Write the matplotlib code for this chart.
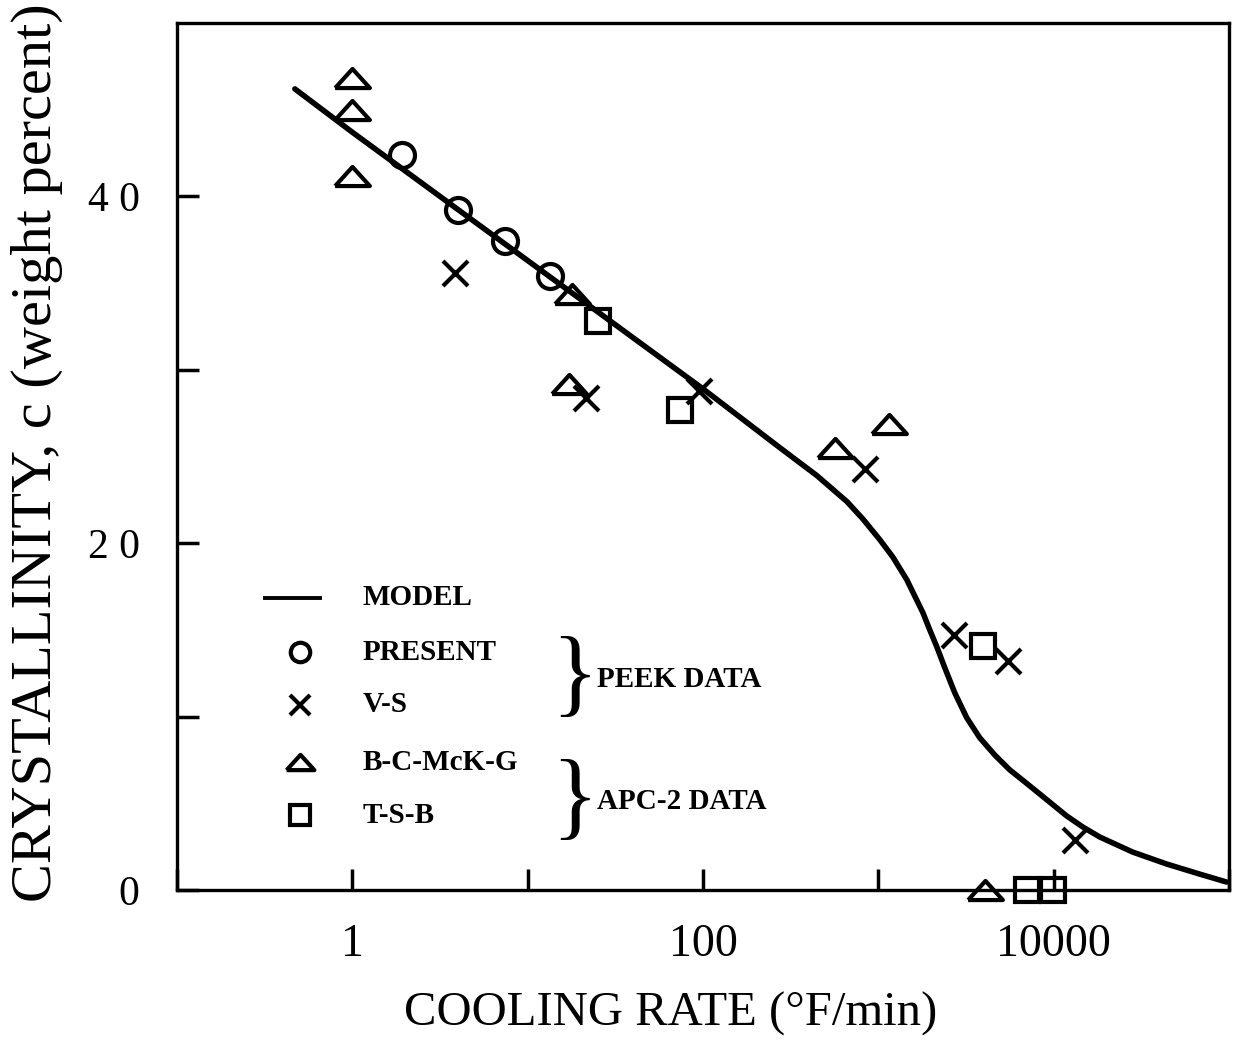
import matplotlib
matplotlib.use('Agg')
import matplotlib.pyplot as plt
from matplotlib.ticker import FixedLocator, FixedFormatter, NullLocator

plt.rcParams['font.family'] = ['Liberation Serif', 'DejaVu Serif']

# model curve
model_rate = [0.47, 1, 10, 100, 275, 446, 662, 816, 1020, 1210, 1452, 1794,
              1965, 2154, 2393, 2729, 3194, 3787, 4611, 5615, 6836, 8322,
              11864, 14630, 18290, 28190, 44050, 67900, 96800]
model_c = [46.2, 43.7, 36.3, 28.9, 25.5, 23.9, 22.4, 21.4, 20.2, 19.2, 17.9, 16.0,
           15.0, 14.03, 12.82, 11.37, 9.93, 8.78, 7.79, 6.93, 6.24, 5.54,
           4.27, 3.64, 3.06, 2.19, 1.50, 0.92, 0.46]

# PEEK data
present_rate = [1.93, 4.0, 7.4, 13.4]
present_c = [42.4, 39.2, 37.4, 35.4]
vs_rate = [3.86, 21.5, 95, 838, 2690, 5470, 13200]
vs_c = [35.6, 28.4, 28.8, 24.3, 14.7, 13.2, 2.9]

# APC-2 data
bcmg_rate = [1.0, 1.0, 1.0, 17.9, 17.2, 565, 1150, 4050]
bcmg_c = [46.8, 45.0, 41.2, 34.4, 29.2, 25.5, 26.9, 0.0]
tsb_rate = [25.2, 73.9, 3940, 7000, 9900]
tsb_c = [32.8, 27.7, 14.1, 0.0, 0.0]

x_ticks = [0.1, 1, 10, 100, 1000, 10000, 100000]
x_labels = ['', '1', '', '100', '', '10000', '']
y_ticks = [0, 10, 20, 30, 40]
y_labels = ['0', '', '2 0', '', '4 0']

# flat triangle like in the original
tri = [(-1, -0.55), (1, -0.55), (0, 0.55), (-1, -0.55)]

fig = plt.figure(figsize=(12.33, 10.57), dpi=100)
ax = fig.add_axes([177 / 1233, 1 - 890 / 1057, 1052 / 1233, 867 / 1057])

ax.plot(model_rate, model_c, color='black', lw=4, solid_capstyle='round',
        solid_joinstyle='round', zorder=3)

mk = dict(linestyle='none', color='black', mfc='none', mew=3.0, clip_on=False, zorder=4)
ax.plot(present_rate, present_c, marker='o', ms=18, **mk)
ax.plot(vs_rate, vs_c, marker='x', ms=18, **mk)
ax.plot(bcmg_rate, bcmg_c, marker=tri, ms=25, **mk)
ax.plot(tsb_rate, tsb_c, marker='s', ms=17, **mk)

ax.set_xscale('log')
ax.set_xlim(0.1, 100000)
ax.set_ylim(0, 50)

ax.xaxis.set_major_locator(FixedLocator(x_ticks))
ax.xaxis.set_major_formatter(FixedFormatter(x_labels))
ax.xaxis.set_minor_locator(NullLocator())
ax.yaxis.set_major_locator(FixedLocator(y_ticks))
ax.yaxis.set_major_formatter(FixedFormatter(y_labels))

ax.tick_params(axis='x', direction='in', length=15, width=2.5, pad=24, labelsize=33)
ax.tick_params(axis='y', direction='in', length=16, width=2.5, pad=27, labelsize=30)
for s in ax.spines.values():
    s.set_linewidth(2.4)

ax.set_xlabel('COOLING RATE (°F/min)', fontsize=35)
ax.xaxis.set_label_coords(0.469, -0.117)
ax.set_ylabel('CRYSTALLINITY, c (weight percent)', fontsize=42)
ax.yaxis.set_label_coords(-0.108, 0.504)

# hand-made legend
T = ax.transAxes
lx, tx = 0.117, 0.176
ax.plot([0.084, 0.136], [0.337, 0.337], color='black', lw=2.8, transform=T)
lm = dict(color='black', mfc='none', mew=3.0, transform=T, clip_on=False)
ax.plot([lx], [0.2745], marker='o', ms=14, **lm)
ax.plot([lx], [0.2134], marker='x', ms=14, **lm)
ax.plot([lx], [0.1476], marker=tri, ms=20, **lm)
ax.plot([lx], [0.0865], marker='s', ms=14, **lm)

lt = dict(transform=T, fontsize=21, fontweight='bold', va='center', ha='left')
ax.text(tx, 0.337, 'MODEL', **lt)
ax.text(tx, 0.2745, 'PRESENT', **lt)
ax.text(tx, 0.2134, 'V-S', **lt)
ax.text(tx, 0.1476, 'B-C-McK-G', **lt)
ax.text(tx, 0.0865, 'T-S-B', **lt)

ax.text(0.378, 0.241, '}', transform=T, fontsize=70, va='center', ha='center')
ax.text(0.378, 0.099, '}', transform=T, fontsize=70, va='center', ha='center')
ax.text(0.399, 0.243, 'PEEK DATA', **lt)
ax.text(0.399, 0.1015, 'APC-2 DATA', **lt)

fig.savefig('out.png', dpi=100, facecolor='white')
